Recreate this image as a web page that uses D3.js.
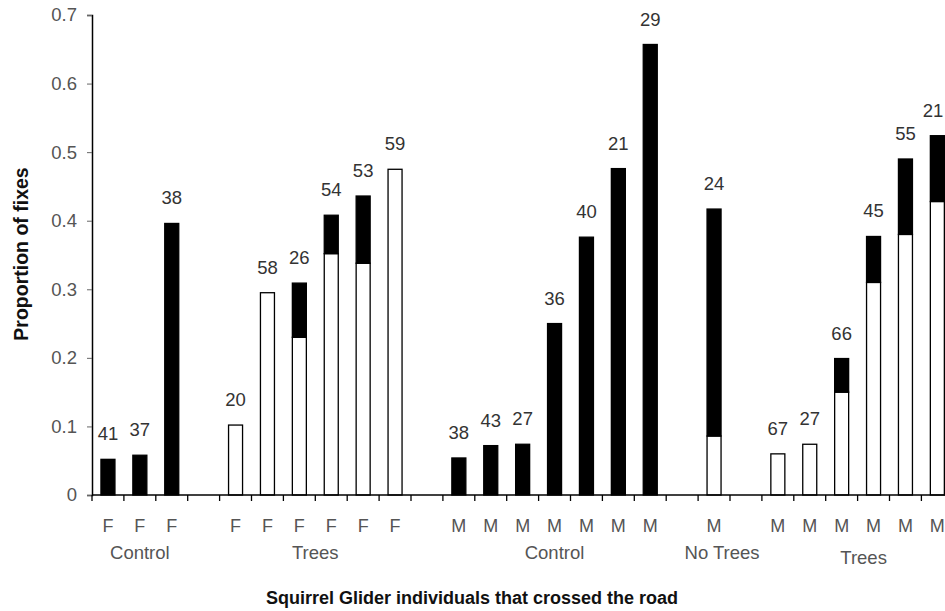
<!DOCTYPE html>
<html>
<head>
<meta charset="utf-8">
<script src="https://cdn.jsdelivr.net/npm/d3@7"></script>
<style>
  body { margin: 0; background: #fff; }
  text { font-family: Arial, "Liberation Sans", sans-serif; }
</style>
</head>
<body>
<div id="chart"></div>
<script>
// slots along the x axis, "" = empty gap slot
let slots = ["cF1", "cF2", "cF3", "", "tF1", "tF2", "tF3", "tF4", "tF5", "tF6", "",
  "cM1", "cM2", "cM3", "cM4", "cM5", "cM6", "cM7", "", "nM1", "",
  "tM1", "tM2", "tM3", "tM4", "tM5", "tM6"];

let individuals = ["cF1", "cF2", "cF3", "tF1", "tF2", "tF3", "tF4", "tF5", "tF6",
  "cM1", "cM2", "cM3", "cM4", "cM5", "cM6", "cM7", "nM1",
  "tM1", "tM2", "tM3", "tM4", "tM5", "tM6"];
let sexLabels = ["F", "F", "F", "F", "F", "F", "F", "F", "F",
  "M", "M", "M", "M", "M", "M", "M", "M",
  "M", "M", "M", "M", "M", "M"];

// lower (open) part of each bar
let openValues = [0, 0, 0, 0.102, 0.295, 0.230, 0.352, 0.338, 0.475,
  0, 0, 0, 0, 0, 0, 0, 0.086,
  0.060, 0.074, 0.150, 0.310, 0.380, 0.428];
// upper (filled) part of each bar
let filledValues = [0.052, 0.058, 0.396, 0, 0, 0.079, 0.056, 0.098, 0,
  0.054, 0.072, 0.074, 0.250, 0.376, 0.476, 0.657, 0.331,
  0, 0, 0.049, 0.067, 0.110, 0.096];
// number of fixes written over each bar
let fixCounts = [41, 37, 38, 20, 58, 26, 54, 53, 59,
  38, 43, 27, 36, 40, 21, 29, 24,
  67, 27, 66, 45, 55, 21];

let groupNames = ["Control", "Trees", "Control", "No Trees", "Trees"];
let groupMembers = [["cF1", "cF3"], ["tF1", "tF6"], ["cM1", "cM7"], ["nM1", "nM1"], ["tM1", "tM6"]];
let groupShift = [0, 0, 0, 8, 6];

let yTicks = [0, 0.1, 0.2, 0.3, 0.4, 0.5, 0.6, 0.7];

let width = 945, height = 611;
let margin = { left: 92, top: 15, bottom: 116 };
let plot_h = height - margin.top - margin.bottom; // 480
let plot_w = 31.9 * slots.length; // runs past the right edge, like the source

let svg = d3.select("#chart").append("svg")
  .attr("width", width)
  .attr("height", height);

let g = svg.append("g")
  .attr("transform", `translate(${margin.left},${margin.top})`);

let x = d3.scaleBand().domain(slots.map((s, i) => s || "gap" + i)).range([0, plot_w]);
let y = d3.scaleLinear().domain([0, 0.7]).range([plot_h, 0]);
let barW = 14;

let data = individuals.map((id, i) => ({
  id: id, sex: sexLabels[i], open: openValues[i], filled: filledValues[i], n: fixCounts[i]
}));
let stacked = d3.stack().keys(["open", "filled"])(data);

// bars
g.append("g")
  .selectAll("g")
  .data(stacked)
  .join("g")
  .attr("fill", d => d.key == "open" ? "#fff" : "#000")
  .selectAll("rect")
  .data(d => d.filter(s => s[1] > s[0]))
  .join("rect")
  .attr("x", d => x(d.data.id) + x.bandwidth() / 2 - barW / 2)
  .attr("y", d => y(d[1]))
  .attr("width", barW)
  .attr("height", d => y(d[0]) - y(d[1]))
  .attr("stroke", "#000")
  .attr("stroke-width", 1.3);

// counts over the bars (last one kept inside the picture)
g.append("g")
  .selectAll("text")
  .data(data)
  .join("text")
  .attr("x", d => Math.min(x(d.id) + x.bandwidth() / 2, width - margin.left - 12))
  .attr("y", d => y(d.open + d.filled) - 19)
  .attr("text-anchor", "middle")
  .attr("font-size", "18.5px")
  .attr("fill", "#333")
  .text(d => d.n);

// y axis
let yAxis = d3.axisLeft(y).tickValues(yTicks).tickSize(5).tickPadding(10)
  .tickFormat(d => d == 0 ? "0" : d3.format(".1f")(d));
let ya = g.append("g").call(yAxis);
ya.select(".domain").attr("stroke", "#000").attr("stroke-width", 1.5);
ya.selectAll(".tick line").attr("stroke", "#666");
ya.selectAll("text").attr("font-size", "18.5px").attr("fill", "#555")
  .style("font-family", "Arial, 'Liberation Sans', sans-serif");

// x axis line with ticks at slot boundaries
g.append("line")
  .attr("x1", 0).attr("x2", plot_w)
  .attr("y1", plot_h).attr("y2", plot_h)
  .attr("stroke", "#000").attr("stroke-width", 1.5);
g.append("g")
  .selectAll("line")
  .data(d3.range(slots.length + 1))
  .join("line")
  .attr("x1", i => i * x.step()).attr("x2", i => i * x.step())
  .attr("y1", plot_h).attr("y2", plot_h + 6)
  .attr("stroke", "#000").attr("stroke-width", 1.3);

// F / M labels
g.append("g")
  .selectAll("text")
  .data(data)
  .join("text")
  .attr("x", d => x(d.id) + x.bandwidth() / 2)
  .attr("y", plot_h + 37)
  .attr("text-anchor", "middle")
  .attr("font-size", "18px")
  .attr("fill", "#555")
  .text(d => d.sex);

// treatment labels
g.append("g")
  .selectAll("text")
  .data(groupNames)
  .join("text")
  .attr("x", (d, i) => (x(groupMembers[i][0]) + x(groupMembers[i][1]) + x.bandwidth()) / 2 + groupShift[i])
  .attr("y", (d, i) => plot_h + (i == 4 ? 69 : 64))
  .attr("text-anchor", "middle")
  .attr("font-size", "18.5px")
  .attr("fill", "#555")
  .text(d => d);

// axis titles
svg.append("text")
  .attr("x", 472)
  .attr("y", 604)
  .attr("text-anchor", "middle")
  .attr("font-size", "18px")
  .attr("font-weight", "bold")
  .attr("fill", "#111")
  .text("Squirrel Glider individuals that crossed the road");

svg.append("text")
  .attr("transform", "translate(28,254) rotate(-90)")
  .attr("text-anchor", "middle")
  .attr("font-size", "19.5px")
  .attr("font-weight", "bold")
  .attr("fill", "#111")
  .text("Proportion of fixes");
</script>
</body>
</html>
